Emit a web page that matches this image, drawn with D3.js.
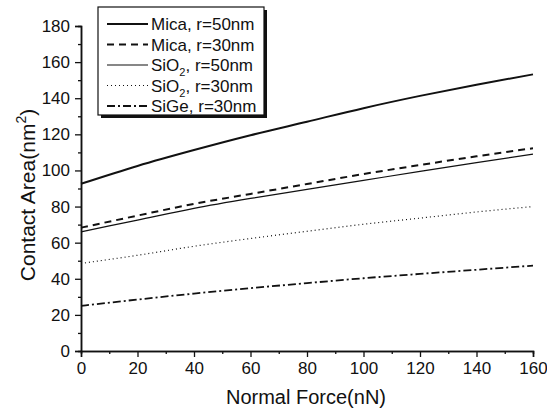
<!DOCTYPE html>
<html><head><meta charset="utf-8">
<script src="https://cdn.jsdelivr.net/npm/d3@7"></script>
<style>body{margin:0;background:#fff}svg{display:block}text{font-family:"Liberation Sans",Arial,sans-serif;fill:#111}</style>
</head><body><svg id="c" width="547" height="412"></svg>
<script>
const forces = [0, 20, 40, 60, 80, 100, 120, 140, 160];
const micaR50 = [92.6, 102.5, 111.3, 119.5, 127, 134.5, 141.3, 147.5, 153.2];
const micaR30 = [68.3, 75, 81.5, 87, 92.5, 98, 103, 107.8, 112.3];
const sio2R50 = [66, 72.5, 79, 84.5, 89.5, 94.5, 99.5, 104.3, 109];
const sio2R30 = [48.5, 53, 58, 62.3, 66.3, 70.2, 73.6, 77, 80];
const sigeR30 = [25, 28.5, 31.8, 34.8, 37.6, 40.3, 42.7, 45, 47.3];
const xTicks = [0, 20, 40, 60, 80, 100, 120, 140, 160];
const yTicks = [0, 20, 40, 60, 80, 100, 120, 140, 160, 180];

const series = [
  {name:"Mica, r=50nm", sub:null, vals:micaR50, w:2, dash:null},
  {name:"Mica, r=30nm", sub:null, vals:micaR30, w:2, dash:"7,5"},
  {name:"SiO", sub:["2", ", r=50nm"], vals:sio2R50, w:1.2, dash:null},
  {name:"SiO", sub:["2", ", r=30nm"], vals:sio2R30, w:1.2, dash:"1,3"},
  {name:"SiGe, r=30nm", sub:null, vals:sigeR30, w:1.8, dash:"8,3,2,3"}
];

const svg = d3.select("#c");
const L = 81, R = 533, T = 26, B = 351;
const x = d3.scaleLinear().domain([0,160]).range([L,R]);
const y = d3.scaleLinear().domain([0,180]).range([B,T]);

// axes
svg.append("g").attr("transform",`translate(0,${B})`)
  .call(d3.axisBottom(x).tickValues(xTicks).tickSize(6).tickPadding(5).tickFormat(d3.format("d")));
svg.append("g").attr("transform",`translate(0,${B})`)
  .call(d3.axisBottom(x).tickValues(d3.range(10,160,20)).tickSize(3).tickFormat(""));
svg.append("g").attr("transform",`translate(${L},0)`)
  .call(d3.axisLeft(y).tickValues(yTicks).tickSize(6).tickPadding(5).tickFormat(d3.format("d")));
svg.append("g").attr("transform",`translate(${L},0)`)
  .call(d3.axisLeft(y).tickValues(d3.range(10,180,20)).tickSize(3).tickFormat(""));
svg.selectAll(".domain").attr("stroke","#111").attr("stroke-width",1.5);
svg.selectAll(".tick line").attr("stroke","#111").attr("stroke-width",1.3);
svg.selectAll(".tick text").style("font-size","17px").attr("fill","#111");

// axis titles
svg.append("text").attr("x",306).attr("y",404).attr("text-anchor","middle")
  .style("font-size","20px").text("Normal Force(nN)");
const yt = svg.append("text").attr("transform",`translate(35,195) rotate(-90)`)
  .attr("text-anchor","middle").style("font-size","21px");
yt.append("tspan").text("Contact Area(nm");
yt.append("tspan").attr("dy",-9).style("font-size","14px").text("2");
yt.append("tspan").attr("dy",9).text(")");

// lines
const line = d3.line().x((d,i)=>x(forces[i])).y(d=>y(d)).curve(d3.curveMonotoneX);
series.forEach(s=>{
  svg.append("path").datum(s.vals).attr("d",line).attr("fill","none")
    .attr("stroke","#111").attr("stroke-width",s.w)
    .attr("stroke-dasharray",s.dash);
});

// legend
const lx = 98, ly = 7, lw = 166, lh = 108;
svg.append("rect").attr("x",lx+3).attr("y",ly+3).attr("width",lw).attr("height",lh).attr("fill","#111");
svg.append("rect").attr("x",lx).attr("y",ly).attr("width",lw).attr("height",lh)
  .attr("fill","#fff").attr("stroke","#111").attr("stroke-width",1.2);
series.forEach((s,i)=>{
  const cy = ly + 17 + i*20.5;
  svg.append("line").attr("x1",lx+9).attr("x2",lx+50).attr("y1",cy).attr("y2",cy)
    .attr("stroke","#111").attr("stroke-width",s.w).attr("stroke-dasharray",s.dash);
  const t = svg.append("text").attr("x",lx+53).attr("y",cy+6).style("font-size","17px");
  t.append("tspan").text(s.name);
  if (s.sub){
    t.append("tspan").attr("dy",5).style("font-size","11px").text(s.sub[0]);
    t.append("tspan").attr("dy",-5).text(s.sub[1]);
  }
});
</script></body></html>
